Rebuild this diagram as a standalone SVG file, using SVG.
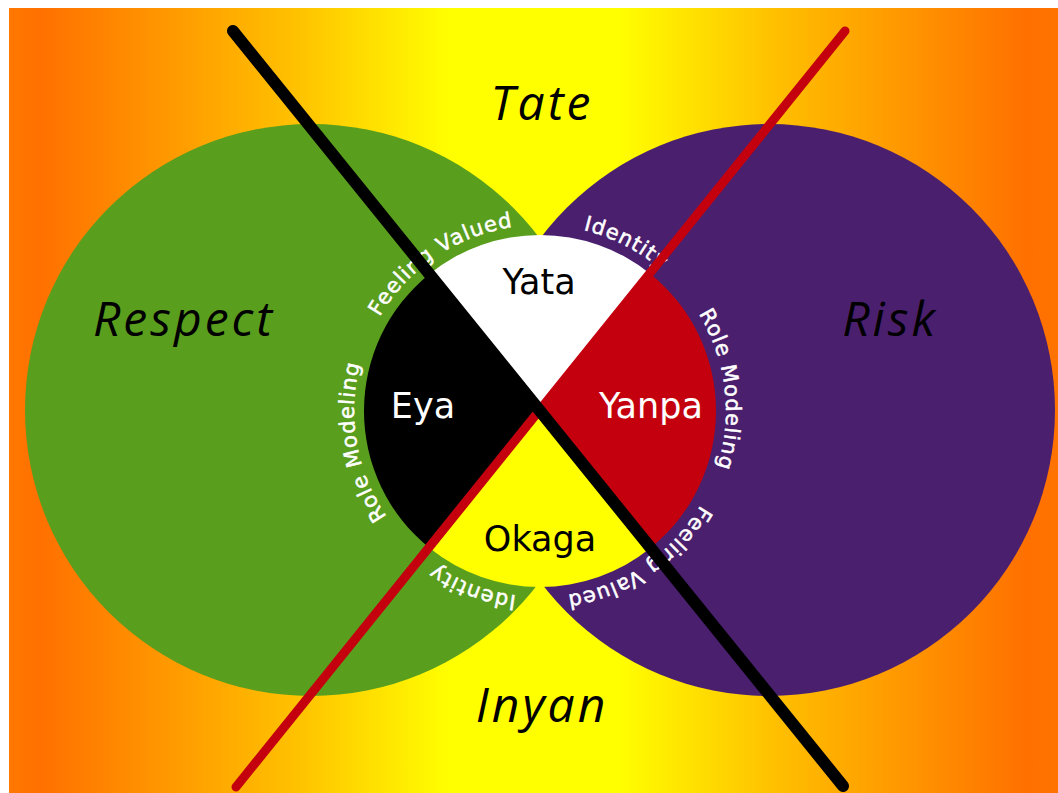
<svg xmlns="http://www.w3.org/2000/svg" width="1058" height="793" viewBox="0 0 1058 793">
<defs>
<linearGradient id="bg" x1="9" y1="0" x2="1058" y2="0" gradientUnits="userSpaceOnUse">
<stop offset="0" stop-color="#FF7800"/>
<stop offset="0.03" stop-color="#FF7000"/>
<stop offset="0.27" stop-color="#FFC000"/>
<stop offset="0.42" stop-color="#FFFF00"/>
<stop offset="0.58" stop-color="#FFFF00"/>
<stop offset="0.73" stop-color="#FFC000"/>
<stop offset="0.97" stop-color="#FF7000"/>
<stop offset="1" stop-color="#FF7300"/>
</linearGradient>
<path id="ring" d="M540,597 A186,186 0 1 1 540,225 A186,186 0 1 1 540,597"/>
</defs>
<style>
.big{font-family:"Open Sans","DejaVu Sans",sans-serif;font-style:italic;font-size:48px;letter-spacing:3px;fill:#000;text-anchor:middle}
.dir{font-family:"DejaVu Sans","Liberation Sans",sans-serif;font-size:35px;text-anchor:middle}
.ringt{font-family:"DejaVu Sans","Liberation Sans",sans-serif;font-size:21px;fill:#fff;stroke:#fff;stroke-width:0.5px;letter-spacing:1px;text-anchor:middle}
</style>
<rect x="0" y="0" width="1058" height="793" fill="#fff"/>
<rect x="9" y="8" width="1049" height="785" fill="url(#bg)"/>
<g id="respect">
<circle cx="311" cy="410" r="286" fill="#5A9E1E"/>
<text class="big" x="184" y="336">Respect</text>
</g>
<g id="risk">
<circle cx="769" cy="410" r="286" fill="#4A1F6E"/>
<text class="big" x="890" y="336">Risk</text>
</g>
<g id="tate"><text class="big" x="542" y="120">Tate</text></g>
<g id="inyan"><text class="big" x="542" y="722">Inyan</text></g>
<g id="wheel">
<path d="M540,411 L429.5,274 A176,176 0 0 1 650.5,274 Z" fill="#fff"/>
<path d="M540,411 L650.5,274 A176,176 0 0 1 650.5,548 Z" fill="#C4000E"/>
<path d="M540,411 L650.5,548 A176,176 0 0 1 429.5,548 Z" fill="#FFFF00"/>
<path d="M540,411 L429.5,548 A176,176 0 0 1 429.5,274 Z" fill="#000"/>
</g>
<g id="ring-labels">
<text class="ringt"><textPath href="#ring" startOffset="474">Feeling Valued</textPath></text>
<text class="ringt"><textPath href="#ring" startOffset="672">Identity</textPath></text>
<text class="ringt"><textPath href="#ring" startOffset="854">Role Modeling</textPath></text>
<text class="ringt"><textPath href="#ring" startOffset="1058">Feeling Valued</textPath></text>
<text class="ringt"><textPath href="#ring" startOffset="68">Identity</textPath></text>
<text class="ringt"><textPath href="#ring" startOffset="260">Role Modeling</textPath></text>
</g>
<g id="connectors" stroke-linecap="round" fill="none">
<line x1="845" y1="31" x2="236" y2="787" stroke="#C4000E" stroke-width="9"/>
<line x1="233" y1="31" x2="843" y2="786" stroke="#000" stroke-width="12"/>
</g>
<g id="yata"><text class="dir" x="539" y="294" fill="#000">Yata</text></g>
<g id="eya"><text class="dir" x="423" y="418" fill="#fff">Eya</text></g>
<g id="yanpa"><text class="dir" x="651" y="418" fill="#fff">Yanpa</text></g>
<g id="okaga"><text class="dir" x="540" y="551" fill="#000">Okaga</text></g>
</svg>
